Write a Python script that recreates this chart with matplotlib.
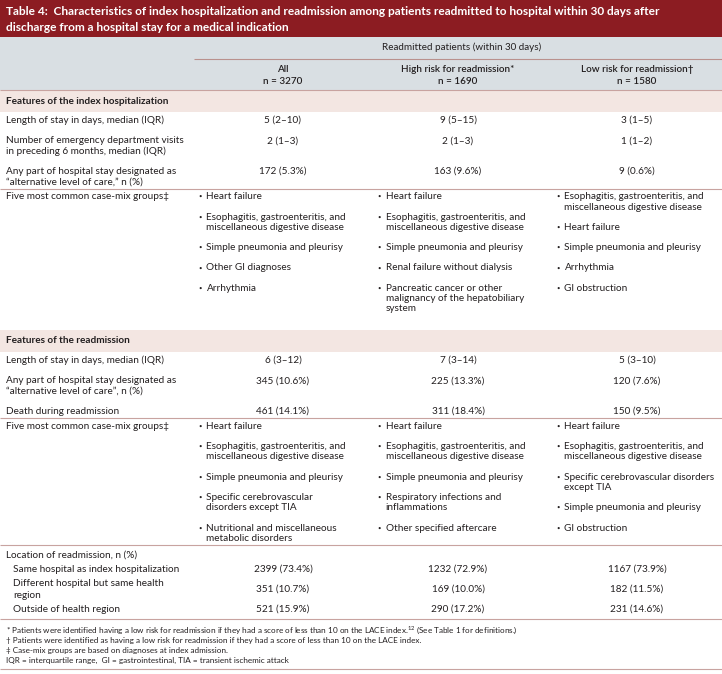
import matplotlib
matplotlib.use("Agg")
import matplotlib.pyplot as plt
from matplotlib.patches import Rectangle

W, H = 722, 674

title_lines = [
    "Table 4:  Characteristics of index hospitalization and readmission among patients readmitted to hospital within 30 days after",
    "discharge from a hospital stay for a medical indication",
]
group_header = "Readmitted patients (within 30 days)"
col_names = ["All", "High risk for readmission*", "Low risk for readmission\u2020"]
col_ns = ["n = 3270", "n = 1690", "n = 1580"]

index_title = "Features of the index hospitalization"
index_labels = [
    ["Length of stay in days, median (IQR)"],
    ["Number of emergency department visits", "in preceding 6 months, median (IQR)"],
    ["Any part of hospital stay designated as", "\u201calternative level of care,\u201d n (%)"],
]
index_values = [
    ["5 (2\u201310)", "9 (5\u201315)", "3 (1\u20135)"],
    ["2 (1\u20133)", "2 (1\u20133)", "1 (1\u20132)"],
    ["172 (5.3%)", "163 (9.6%)", "9 (0.6%)"],
]
groups_label = "Five most common case-mix groups\u2021"
heart = ["Heart failure"]
esoph = ["Esophagitis, gastroenteritis, and", "miscellaneous digestive disease"]
pneumonia = ["Simple pneumonia and pleurisy"]
index_groups = [
    [heart, esoph, pneumonia, ["Other GI diagnoses"], ["Arrhythmia"]],
    [heart, esoph, pneumonia, ["Renal failure without dialysis"],
     ["Pancreatic cancer or other", "malignancy of the hepatobiliary", "system"]],
    [esoph, heart, pneumonia, ["Arrhythmia"], ["GI obstruction"]],
]

readm_title = "Features of the readmission"
readm_labels = [
    ["Length of stay in days, median (IQR)"],
    ["Any part of hospital stay designated as", "\u201calternative level of care\u201d, n (%)"],
    ["Death during readmission"],
]
readm_values = [
    ["6 (3\u201312)", "7 (3\u201314)", "5 (3\u201310)"],
    ["345 (10.6%)", "225 (13.3%)", "120 (7.6%)"],
    ["461 (14.1%)", "311 (18.4%)", "150 (9.5%)"],
]
readm_groups = [
    [heart, esoph, pneumonia, ["Specific cerebrovascular", "disorders except TIA"],
     ["Nutritional and miscellaneous", "metabolic disorders"]],
    [heart, esoph, pneumonia, ["Respiratory infections and", "inflammations"],
     ["Other specified aftercare"]],
    [heart, esoph, ["Specific cerebrovascular disorders", "except TIA"], pneumonia,
     ["GI obstruction"]],
]

location_label = "Location of readmission, n (%)"
location_labels = [
    ["Same hospital as index hospitalization"],
    ["Different hospital but same health", "region"],
    ["Outside of health region"],
]
location_values = [
    ["2399 (73.4%)", "1232 (72.9%)", "1167 (73.9%)"],
    ["351 (10.7%)", "169 (10.0%)", "182 (11.5%)"],
    ["521 (15.9%)", "290 (17.2%)", "231 (14.6%)"],
]

footnotes = [
    "* Patients were identified having a low risk for readmission if they had a score of less than 10 on the LACE index.$^{\\mathregular{12}}$ (See Table 1 for definitions.)",
    "\u2020 Patients were identified as having a low risk for readmission if they had a score of less than 10 on the LACE index.",
    "\u2021 Case-mix groups are based on diagnoses at index admission.",
    "IQR = interquartile range,  GI = gastrointestinal, TIA = transient ischemic attack",
]

RED = "#8C1C22"
HEAD_BG = "#D9DFE3"
SECT_BG = "#F3E6E2"
RULE = "#C8A3A0"
INK = "#231F20"

FS = 7.2
FS_HEAD = 7.1
FS_TITLE = 8.6
FS_NOTE = 5.9
LINE = 10.3
GAP = 10

LABEL_X = 6
INDENT_X = 13
COL_X = [283, 458, 637]
BULLET_X = [198, 377, 556]
BULLET_PAD = 8.5

plt.rcParams["font.family"] = ["Lato", "DejaVu Sans"]

fig = plt.figure(figsize=(W / 100, H / 100), dpi=100)
ax = fig.add_axes([0, 0, 1, 1])
ax.set_xlim(0, W)
ax.set_ylim(H, 0)
ax.axis("off")


def txt(x, y, s, size=FS, color=INK, **kw):
    ax.text(x, y, s, fontsize=size, color=color, va="center", **kw)


def rule(y, x0=0, x1=W, color=RULE, lw=0.8):
    ax.hlines(y, x0, x1, color=color, lw=lw)


def band(y0, title):
    ax.add_patch(Rectangle((0, y0), W, 22, color=SECT_BG, lw=0))
    txt(LABEL_X, y0 + 11, title, weight="bold")
    return y0 + 22


def stat_rows(y, labels, values, x=LABEL_X, step_gap=GAP, line=LINE):
    last = y
    for lab, vals in zip(labels, values):
        for k, s in enumerate(lab):
            txt(x, y + k * line, s)
        for j, v in enumerate(vals):
            txt(COL_X[j], y, v, ha="center")
        last = y + (len(lab) - 1) * line
        y += len(lab) * line + step_gap
    return last


def group_lists(y, columns):
    last = y
    for j, items in enumerate(columns):
        yy = y
        for item in items:
            txt(BULLET_X[j], yy, "\u2022", size=4.2, ha="left")
            for k, s in enumerate(item):
                txt(BULLET_X[j] + BULLET_PAD, yy + k * LINE, s)
            last = max(last, yy + (len(item) - 1) * LINE)
            yy += len(item) * LINE + GAP
    return last


# title
ax.add_patch(Rectangle((0, 0), W, 37, color=RED, lw=0))
txt(LABEL_X, 11.5, title_lines[0], size=FS_TITLE, color="white", weight="bold")
txt(LABEL_X, 27.5, title_lines[1], size=FS_TITLE, color="white", weight="bold")

# column header
ax.add_patch(Rectangle((0, 37), W, 53, color=HEAD_BG, lw=0))
txt(462, 47, group_header, size=FS_HEAD, ha="center")
rule(59, 194, W, color="#B9918D")
for j in range(3):
    txt(COL_X[j], 69, col_names[j], size=FS_HEAD, ha="center", weight="semibold")
    txt(COL_X[j], 81, col_ns[j], size=FS_HEAD, ha="center", weight="semibold")

# index hospitalization
y = band(90, index_title)
rule(90)
last = stat_rows(y + 8.5, index_labels, index_values)
rule(last + 7)
y = last + 15
txt(LABEL_X, y, groups_label)
last = group_lists(y, index_groups)

# readmission
y = band(last + 21, readm_title)
last = stat_rows(y + 8.5, readm_labels, readm_values)
rule(last + 7)
y = last + 15
txt(LABEL_X, y, groups_label)
last = group_lists(y, readm_groups)
rule(last + 7)

# location
y = last + 17
txt(LABEL_X, y, location_label)
y += 14
yy = y
for lab, vals in zip(location_labels, location_values):
    for k, s in enumerate(lab):
        txt(INDENT_X, yy + k * 12, s)
    mid = yy + (len(lab) - 1) * 6
    for j, v in enumerate(vals):
        txt(COL_X[j], mid, v, ha="center")
    last = yy + (len(lab) - 1) * 12
    yy += len(lab) * 12 + 2
rule(last + 10)

# footnotes
y = last + 20.5
for note in footnotes:
    txt(LABEL_X, y, note, size=FS_NOTE)
    y += 10.3
rule(y - 1.5)

fig.savefig("out.png", dpi=100)
